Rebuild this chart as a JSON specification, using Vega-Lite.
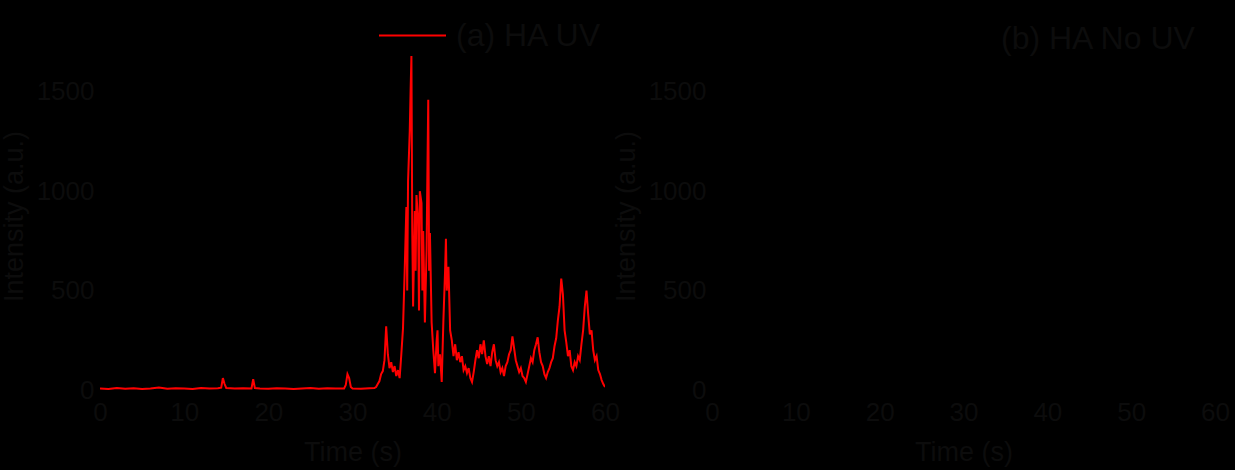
{
  "$schema": "https://vega.github.io/schema/vega-lite/v6.json",
  "background": "#000000",
  "padding": {"left": 0, "top": 1, "right": 5, "bottom": 5},
  "spacing": -8,
  "config": {
    "font": "Liberation Sans",
    "view": {"stroke": null},
    "axis": {
      "grid": false,
      "domainColor": "#000000",
      "tickColor": "#000000",
      "tickSize": 0,
      "labelColor": "#0c0c0c",
      "titleColor": "#0c0c0c",
      "labelFontSize": 26,
      "titleFontSize": 27,
      "titleFontWeight": "normal",
      "labelPadding": 6,
      "titlePadding": 8,
      "labelFlush": false,
      "format": "d"
    },
    "axisX": {"labelPadding": 9, "titlePadding": 14},
    "legend": {
      "orient": "none",
      "symbolType": "stroke",
      "symbolSize": 4489,
      "symbolStrokeWidth": 2,
      "labelFontSize": 32,
      "labelColor": "#0c0c0c",
      "labelOffset": 9,
      "labelLimit": 400,
      "title": null
    }
  },
  "datasets": {
    "ha_uv": [
      {"t": 0, "v": 8}, {"t": 1, "v": 5}, {"t": 2, "v": 10}, {"t": 3, "v": 6}, {"t": 4, "v": 9},
      {"t": 5, "v": 5}, {"t": 6, "v": 8}, {"t": 7, "v": 12}, {"t": 8, "v": 6}, {"t": 9, "v": 9},
      {"t": 10, "v": 7}, {"t": 11, "v": 5}, {"t": 12, "v": 10}, {"t": 13, "v": 8}, {"t": 14, "v": 9},
      {"t": 14.4, "v": 12}, {"t": 14.6, "v": 60}, {"t": 14.8, "v": 30}, {"t": 15, "v": 10},
      {"t": 16, "v": 7}, {"t": 17, "v": 9}, {"t": 18, "v": 8}, {"t": 18.2, "v": 55}, {"t": 18.4, "v": 10},
      {"t": 19, "v": 8}, {"t": 20, "v": 6}, {"t": 21, "v": 9}, {"t": 22, "v": 7}, {"t": 23, "v": 5},
      {"t": 24, "v": 8}, {"t": 25, "v": 10}, {"t": 26, "v": 6}, {"t": 27, "v": 9}, {"t": 28, "v": 7},
      {"t": 29, "v": 8}, {"t": 29.2, "v": 25}, {"t": 29.4, "v": 80}, {"t": 29.6, "v": 60}, {"t": 29.8, "v": 15},
      {"t": 30, "v": 8}, {"t": 31, "v": 6}, {"t": 32, "v": 9}, {"t": 32.6, "v": 10}, {"t": 32.8, "v": 15},
      {"t": 33.0, "v": 30}, {"t": 33.2, "v": 45}, {"t": 33.4, "v": 80}, {"t": 33.6, "v": 95}, {"t": 33.8, "v": 150},
      {"t": 34.0, "v": 320}, {"t": 34.2, "v": 180}, {"t": 34.4, "v": 110}, {"t": 34.6, "v": 140}, {"t": 34.8, "v": 90},
      {"t": 35.0, "v": 120}, {"t": 35.2, "v": 70}, {"t": 35.4, "v": 100}, {"t": 35.6, "v": 60}, {"t": 35.8, "v": 180},
      {"t": 36.0, "v": 310}, {"t": 36.2, "v": 600}, {"t": 36.4, "v": 920}, {"t": 36.5, "v": 500}, {"t": 36.6, "v": 1050},
      {"t": 36.8, "v": 1300}, {"t": 36.9, "v": 1500}, {"t": 37.0, "v": 1680}, {"t": 37.1, "v": 800}, {"t": 37.2, "v": 420},
      {"t": 37.4, "v": 900}, {"t": 37.5, "v": 600}, {"t": 37.6, "v": 980}, {"t": 37.8, "v": 850}, {"t": 37.9, "v": 400},
      {"t": 38.0, "v": 1000}, {"t": 38.2, "v": 940}, {"t": 38.3, "v": 500}, {"t": 38.4, "v": 800}, {"t": 38.6, "v": 340},
      {"t": 38.8, "v": 700}, {"t": 38.9, "v": 1100}, {"t": 39.0, "v": 1460}, {"t": 39.1, "v": 600}, {"t": 39.2, "v": 790},
      {"t": 39.4, "v": 340}, {"t": 39.6, "v": 200}, {"t": 39.8, "v": 85}, {"t": 40.0, "v": 250}, {"t": 40.1, "v": 300},
      {"t": 40.2, "v": 120}, {"t": 40.4, "v": 180}, {"t": 40.6, "v": 40}, {"t": 40.8, "v": 350}, {"t": 41.0, "v": 600},
      {"t": 41.1, "v": 760}, {"t": 41.2, "v": 500}, {"t": 41.4, "v": 620}, {"t": 41.6, "v": 300}, {"t": 41.8, "v": 250},
      {"t": 42.0, "v": 170}, {"t": 42.2, "v": 230}, {"t": 42.4, "v": 150}, {"t": 42.6, "v": 190}, {"t": 42.8, "v": 140},
      {"t": 43.0, "v": 170}, {"t": 43.2, "v": 100}, {"t": 43.4, "v": 120}, {"t": 43.6, "v": 85}, {"t": 43.8, "v": 110},
      {"t": 44.0, "v": 60}, {"t": 44.2, "v": 40}, {"t": 44.4, "v": 90}, {"t": 44.6, "v": 150}, {"t": 44.8, "v": 200},
      {"t": 45.0, "v": 160}, {"t": 45.2, "v": 230}, {"t": 45.4, "v": 180}, {"t": 45.6, "v": 250}, {"t": 45.8, "v": 170},
      {"t": 46.0, "v": 130}, {"t": 46.2, "v": 170}, {"t": 46.4, "v": 120}, {"t": 46.6, "v": 190}, {"t": 46.8, "v": 230},
      {"t": 47.0, "v": 150}, {"t": 47.2, "v": 120}, {"t": 47.4, "v": 140}, {"t": 47.6, "v": 90}, {"t": 47.8, "v": 110},
      {"t": 48.0, "v": 70}, {"t": 48.2, "v": 120}, {"t": 48.4, "v": 140}, {"t": 48.6, "v": 180}, {"t": 48.8, "v": 200},
      {"t": 49.0, "v": 270}, {"t": 49.2, "v": 210}, {"t": 49.4, "v": 150}, {"t": 49.6, "v": 120}, {"t": 49.8, "v": 90},
      {"t": 50.0, "v": 110}, {"t": 50.2, "v": 70}, {"t": 50.4, "v": 60}, {"t": 50.6, "v": 40}, {"t": 50.8, "v": 80},
      {"t": 51.0, "v": 120}, {"t": 51.2, "v": 160}, {"t": 51.4, "v": 140}, {"t": 51.6, "v": 200}, {"t": 51.8, "v": 230},
      {"t": 52.0, "v": 265}, {"t": 52.2, "v": 190}, {"t": 52.4, "v": 140}, {"t": 52.6, "v": 120}, {"t": 52.8, "v": 80},
      {"t": 53.0, "v": 60}, {"t": 53.2, "v": 90}, {"t": 53.4, "v": 110}, {"t": 53.6, "v": 140}, {"t": 53.8, "v": 160},
      {"t": 54.0, "v": 220}, {"t": 54.2, "v": 260}, {"t": 54.4, "v": 350}, {"t": 54.6, "v": 420}, {"t": 54.8, "v": 560},
      {"t": 55.0, "v": 480}, {"t": 55.2, "v": 300}, {"t": 55.4, "v": 240}, {"t": 55.6, "v": 170}, {"t": 55.8, "v": 200},
      {"t": 56.0, "v": 120}, {"t": 56.2, "v": 100}, {"t": 56.4, "v": 140}, {"t": 56.6, "v": 120}, {"t": 56.8, "v": 170},
      {"t": 57.0, "v": 150}, {"t": 57.2, "v": 230}, {"t": 57.4, "v": 300}, {"t": 57.6, "v": 420}, {"t": 57.8, "v": 500},
      {"t": 58.0, "v": 380}, {"t": 58.2, "v": 280}, {"t": 58.4, "v": 300}, {"t": 58.6, "v": 200}, {"t": 58.8, "v": 150},
      {"t": 59.0, "v": 170}, {"t": 59.2, "v": 100}, {"t": 59.4, "v": 80}, {"t": 59.6, "v": 50}, {"t": 59.8, "v": 30},
      {"t": 60.0, "v": 15}
    ],
    "ha_no_uv": [
      {"t": 0, "v": 5}, {"t": 10, "v": 6}, {"t": 20, "v": 5}, {"t": 30, "v": 7}, {"t": 40, "v": 5}, {"t": 50, "v": 6}, {"t": 60, "v": 5}
    ]
  },
  "hconcat": [
    {
      "width": 505,
      "height": 348,
      "data": {"name": "ha_uv"},
      "transform": [{"calculate": "'(a) HA UV'", "as": "series"}],
      "mark": {"type": "line", "strokeWidth": 2, "clip": true},
      "encoding": {
        "x": {"field": "t", "type": "quantitative", "title": "Time (s)",
              "scale": {"domain": [0, 60], "nice": false},
              "axis": {"values": [0, 10, 20, 30, 40, 50, 60]}},
        "y": {"field": "v", "type": "quantitative", "title": "Intensity (a.u.)",
              "scale": {"domain": [0, 1750], "nice": false},
              "axis": {"values": [0, 500, 1000, 1500]}},
        "color": {"field": "series", "type": "nominal",
                  "scale": {"domain": ["(a) HA UV"], "range": ["#ff0000"]},
                  "legend": {"legendX": 278, "legendY": -41}}
      }
    },
    {
      "width": 503,
      "height": 348,
      "data": {"name": "ha_no_uv"},
      "transform": [{"calculate": "'(b) HA No UV'", "as": "series2"}],
      "mark": {"type": "line", "strokeWidth": 2},
      "encoding": {
        "x": {"field": "t", "type": "quantitative", "title": "Time (s)",
              "scale": {"domain": [0, 60], "nice": false},
              "axis": {"values": [0, 10, 20, 30, 40, 50, 60]}},
        "y": {"field": "v", "type": "quantitative", "title": "Intensity (a.u.)",
              "scale": {"domain": [0, 1750], "nice": false},
              "axis": {"values": [0, 500, 1000, 1500]}},
        "color": {"field": "series2", "type": "nominal",
                  "scale": {"domain": ["(b) HA No UV"], "range": ["#000000"]},
                  "legend": {"legendX": 211, "legendY": -38}}
      }
    }
  ],
  "resolve": {"scale": {"color": "independent"}, "legend": {"color": "independent"}}
}
